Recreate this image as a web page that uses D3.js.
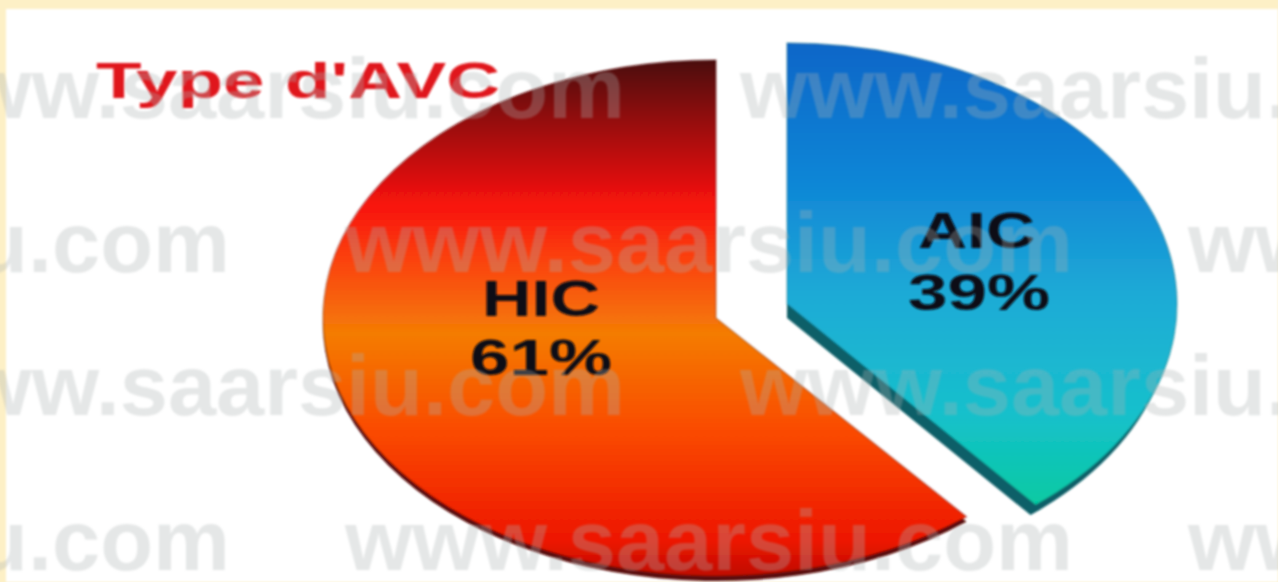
<!DOCTYPE html>
<html><head><meta charset="utf-8">
<script src="https://cdn.jsdelivr.net/npm/d3@7"></script>
<style>html,body{margin:0;padding:0;background:#fff;overflow:hidden}svg{display:block}</style>
</head><body><div id="c"></div>
<script>
const categories = ["AIC", "HIC"];
const values = [39, 61];
const labels = ["39%", "61%"];
const titleText = "Type d'AVC";
const watermark = "www.saarsiu.com";
const hicStops = [[0,"#4a0e10"],[0.1,"#8a1010"],[0.28,"#f81210"],[0.38,"#fb3f0c"],[0.53,"#f47c06"],[0.72,"#fa4a02"],[0.93,"#ee1602"],[1,"#c00c04"]];
const aicStops = [[0,"#0a66c8"],[0.3,"#0f86d6"],[0.55,"#1fabd6"],[0.8,"#17c0cc"],[1,"#06caa2"]];

const W = 1278, H = 582;
const svg = d3.select("#c").append("svg").attr("width", W).attr("height", H);
const defs = svg.append("defs");
defs.append("filter").attr("id","soft").attr("x","-5%").attr("y","-5%").attr("width","110%").attr("height","110%")
  .append("feGaussianBlur").attr("stdDeviation",1.1);
defs.append("filter").attr("id","soft2").attr("x","-5%").attr("y","-20%").attr("width","110%").attr("height","140%")
  .append("feGaussianBlur").attr("stdDeviation",0.8);
function grad(id, stops){
  const g = defs.append("linearGradient").attr("id",id).attr("x1",0).attr("y1",0).attr("x2",0).attr("y2",1);
  stops.forEach(s=>g.append("stop").attr("offset",s[0]).attr("stop-color",s[1]));
}
grad("g-HIC", hicStops); grad("g-AIC", aicStops);
defs.append("clipPath").attr("id","clip-AIC").append("rect").attr("x",787).attr("y",0).attr("width",W).attr("height",H);
defs.append("clipPath").attr("id","clip-HIC").append("rect").attr("x",0).attr("y",0).attr("width",W).attr("height",H);

// page background
svg.append("rect").attr("width",W).attr("height",H).attr("fill","#fdf0c6");
svg.append("rect").attr("x",6).attr("y",9).attr("width",W-6).attr("height",H-9).attr("fill","#fff").attr("filter","url(#soft2)");

const pie = d3.pie().sort(null).value((d,i)=>values[i]);
const arcs = pie(categories);
const unit = d3.arc().innerRadius(0).outerRadius(100);
const layout = {
  AIC:{cx:787,cy:304,sx:3.90,sy:2.61,dx:-5,dy:10,edge:"#0b5f68"},
  HIC:{cx:716,cy:318,sx:3.93,sy:2.58,dx:0,dy:5,edge:"#5a0a08"}
};
const pieG = svg.append("g").attr("filter","url(#soft)");
arcs.forEach(a=>{
  const k = a.data, p = layout[k];
  pieG.append("g").attr("clip-path",`url(#clip-${k})`).append("path").attr("d",unit(a)).attr("fill",p.edge)
    .attr("transform",`translate(${p.cx+p.dx},${p.cy+p.dy}) scale(${p.sx},${p.sy})`);
  pieG.append("path").attr("d",unit(a)).attr("fill",`url(#g-${k})`)
    .attr("stroke",p.edge).attr("stroke-opacity",0.35).attr("stroke-width",1.5).attr("vector-effect","non-scaling-stroke")
    .attr("transform",`translate(${p.cx},${p.cy}) scale(${p.sx},${p.sy})`);
});

const font = "'Liberation Sans',Arial,sans-serif";
const textG = svg.append("g").attr("filter","url(#soft2)").attr("font-family",font).attr("font-weight",700);
function wide(t,x,y,w,size,fill){
  textG.append("text").text(t).attr("x",x).attr("y",y).attr("font-size",size).attr("fill",fill)
    .attr("textLength",w).attr("lengthAdjust","spacingAndGlyphs");
}
wide(titleText,96,98,404,50,"#e0141a");
const labelPos = {AIC:[[918,248,117],[908,310,142]],HIC:[[482,316,118],[470,375,142]]};
categories.forEach((c,i)=>{
  const lp = labelPos[c];
  wide(c,lp[0][0],lp[0][1],lp[0][2],50,"#0a0c18");
  wide(labels[i],lp[1][0],lp[1][1],lp[1][2],50,"#0a0c18");
});

// watermark rows
const rows = [[118,-103],[272,-498],[415,-103],[570,-498]];
const wm = svg.append("g").attr("font-family",font).attr("font-weight",700).attr("font-size",86)
  .attr("fill","#aab2b2").attr("fill-opacity",0.31).attr("filter","url(#soft2)");
rows.forEach(r=>{
  [0,1,2].forEach(n=>{
    wm.append("text").text(watermark).attr("x",r[1]+n*843).attr("y",r[0])
      .attr("textLength",728).attr("lengthAdjust","spacingAndGlyphs");
  });
});
</script></body></html>
